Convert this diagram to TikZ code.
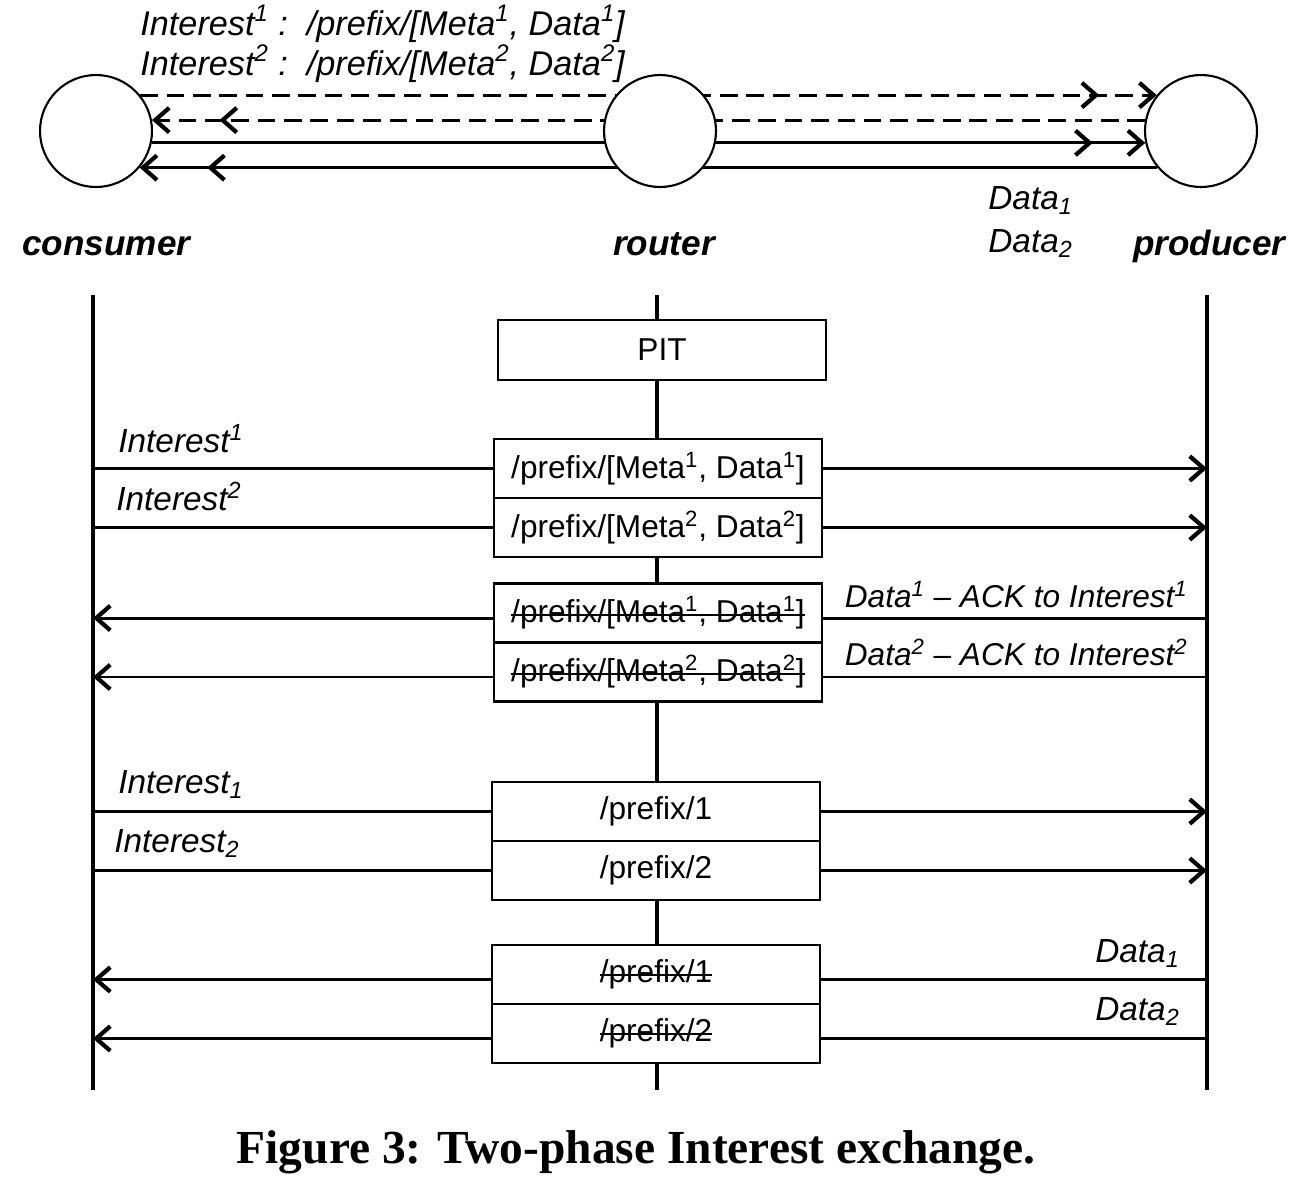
\documentclass[tikz,border=0pt]{standalone}
\usepackage{fontspec}
\setmainfont{Liberation Sans}
\newfontfamily\capfont{Liberation Serif}
\usetikzlibrary{arrows.meta,positioning,backgrounds,decorations.markings,calc}

\newsavebox\strikebox
\newcommand\struck[1]{\sbox\strikebox{#1}\rlap{\rule[0.22em]{\wd\strikebox}{1.2pt}}\usebox\strikebox}

\tikzset{
  peer/.style={circle, draw, line width=1.2pt, fill=white, minimum size=2.24cm, inner sep=0pt},
  life/.style={line width=2.8pt},
  wire/.style={line width=1.7pt},
  msg/.style={wire, -{Straight Barb[length=8pt,width=14pt,line width=2.4pt]}},
  midtip/.style={postaction={decorate},
    decoration={markings, mark=at position -#1 with {\arrow{Straight Barb[length=8pt,width=14pt,line width=2.4pt]}}}},
  entry/.style={draw, line width=1.3pt, fill=white, minimum width=6.56cm, minimum height=1.18cm,
    outer sep=0pt, inner sep=0pt, font=\fontsize{18}{21}\selectfont},
  lbl/.style={font=\fontsize{19}{23}\selectfont\itshape, inner sep=0pt},
  role/.style={font=\fontsize{20}{24}\selectfont\bfseries\itshape, inner sep=0pt},
}

\begin{document}
\begin{tikzpicture}[x=0.02cm,y=-0.02cm]
  \useasboundingbox (0,0) rectangle (1304,1188);

  % topology
  \node[peer] (cons) at (96,131) {};
  \node[peer] (rout) at (660,131) {};
  \node[peer] (prod) at (1201,131) {};

  \begin{scope}[on background layer]
    \draw[msg, dashed, dash pattern=on 10pt off 5pt, midtip=1.15cm] (cons.39) -- (prod.141);
    \draw[msg, dashed, dash pattern=on 10pt off 5pt, midtip=1.35cm] (prod.169) -- (cons.11);
    \draw[msg, midtip=1.05cm] (cons.-12) -- (prod.-168);
    \draw[msg, midtip=1.35cm] (prod.-140) -- (cons.-40);
  \end{scope}

  \node[lbl, font=\fontsize{19.5}{23}\selectfont\itshape, anchor=base west] (top1) at (140,35) {Interest\textsuperscript{1} :\ \ /prefix/[Meta\textsuperscript{1}, Data\textsuperscript{1}]};
  \node[lbl, font=\fontsize{19.5}{23}\selectfont\itshape, anchor=base west] (top2) at (140,75) {Interest\textsuperscript{2} :\ \ /prefix/[Meta\textsuperscript{2}, Data\textsuperscript{2}]};
  \node[lbl, anchor=base west] (topd1) at (988,209) {Data\textsubscript{1}};
  \node[lbl, anchor=base west] (topd2) at (988,252) {Data\textsubscript{2}};

  \node[role, anchor=base west] (lcons) at (22,255) {consumer};
  \node[role, anchor=base] (lrout) at (664,255) {router};
  \node[role, anchor=base west] (lprod) at (1133,255) {producer};

  % lifelines
  \coordinate (ctop) at (93,295);
  \coordinate (cbot) at (93,1090);
  \coordinate (rtop) at (657,295);
  \coordinate (rbot) at (657,1090);
  \coordinate (ptop) at (1207,295);
  \coordinate (pbot) at (1207,1090);
  \draw[life] (ctop) -- (cbot);
  \draw[life] (rtop) -- (rbot);
  \draw[life] (ptop) -- (pbot);

  % PIT entries
  \node[entry, minimum height=1.2cm] (pit) at (662,350) {PIT};

  \node[entry] (b1a) at (658,468.5) {/prefix/[Meta\textsuperscript{1}, Data\textsuperscript{1}]};
  \node[entry, below=0pt of b1a] (b1b) {/prefix/[Meta\textsuperscript{2}, Data\textsuperscript{2}]};

  \node[entry] (b2a) at (658,613) {\struck{/prefix/[Meta\textsuperscript{1}, Data\textsuperscript{1}]}};
  \node[entry, below=0pt of b2a] (b2b) {\struck{/prefix/[Meta\textsuperscript{2}, Data\textsuperscript{2}]}};

  \node[entry] (b3a) at (656,811.5) {/prefix/1};
  \node[entry, below=0pt of b3a] (b3b) {/prefix/2};

  \node[entry] (b4a) at (656,974.5) {\struck{/prefix/1}};
  \node[entry, below=0pt of b4a] (b4b) {\struck{/prefix/2}};

  % phase 1: interests
  \draw[wire] (ctop |- b1a.west) -- (b1a.west);
  \draw[msg] (b1a.east) -- (ptop |- b1a.east);
  \draw[wire] (ctop |- b1b.west) -- (b1b.west);
  \draw[msg] (b1b.east) -- (ptop |- b1b.east);
  \node[lbl, anchor=base west] (i1) at (118,452) {Interest\textsuperscript{1}};
  \node[lbl, anchor=base west] (i2) at (116,510) {Interest\textsuperscript{2}};

  \draw[wire] ($(ptop |- b2a.east)+(0,5)$) -- ($(b2a.east)+(0,5)$);
  \draw[msg] ($(b2a.west)+(0,5)$) -- ($(ctop |- b2a.west)+(0,5)$);
  \draw[wire] ($(ptop |- b2b.east)+(0,5)$) -- ($(b2b.east)+(0,5)$);
  \draw[msg] ($(b2b.west)+(0,5)$) -- ($(ctop |- b2b.west)+(0,5)$);
  \node[lbl, font=\fontsize{18}{22}\selectfont\itshape, anchor=base east] (a1) at (1188,607) {Data\textsuperscript{1} -- ACK to Interest\textsuperscript{1}};
  \node[lbl, font=\fontsize{18}{22}\selectfont\itshape, anchor=base east] (a2) at (1188,665) {Data\textsuperscript{2} -- ACK to Interest\textsuperscript{2}};

  % phase 2: data
  \draw[wire] (ctop |- b3a.west) -- (b3a.west);
  \draw[msg] (b3a.east) -- (ptop |- b3a.east);
  \draw[wire] (ctop |- b3b.west) -- (b3b.west);
  \draw[msg] (b3b.east) -- (ptop |- b3b.east);
  \node[lbl, anchor=base west] (j1) at (118,793) {Interest\textsubscript{1}};
  \node[lbl, anchor=base west] (j2) at (114,852) {Interest\textsubscript{2}};

  \draw[wire] ($(ptop |- b4a.east)+(0,5)$) -- ($(b4a.east)+(0,5)$);
  \draw[msg] ($(b4a.west)+(0,5)$) -- ($(ctop |- b4a.west)+(0,5)$);
  \draw[wire] ($(ptop |- b4b.east)+(0,5)$) -- ($(b4b.east)+(0,5)$);
  \draw[msg] ($(b4b.west)+(0,5)$) -- ($(ctop |- b4b.west)+(0,5)$);
  \node[lbl, anchor=base east] (d1) at (1180,962) {Data\textsubscript{1}};
  \node[lbl, anchor=base east] (d2) at (1180,1020) {Data\textsubscript{2}};

  \node[font=\capfont\bfseries\fontsize{27}{32}\selectfont] (cap) at (636,1152) {Figure 3: Two-phase Interest exchange.};
\end{tikzpicture}
\end{document}
